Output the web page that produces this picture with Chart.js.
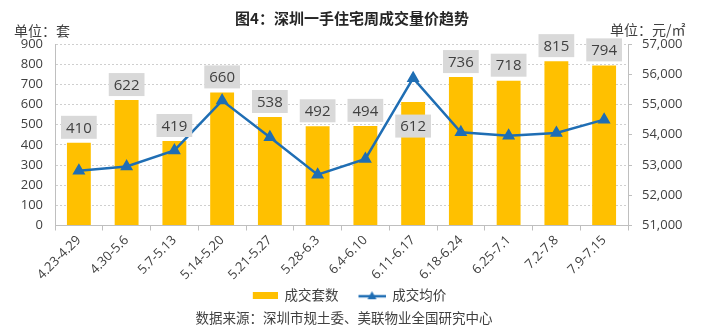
<!DOCTYPE html>
<html>
<head>
<meta charset="utf-8" />
<title>深圳一手住宅周成交量价趋势</title>
<script src="https://cdn.jsdelivr.net/npm/chart.js@4/dist/chart.umd.min.js"></script>
<style>
  html, body { margin: 0; padding: 0; background: #fff; }
  #wrap { width: 707px; height: 335px; }
</style>
</head>
<body>
<div id="wrap"><canvas id="trendChart"></canvas></div>
<script>
const weeks = ['4.23-4.29', '4.30-5.6', '5.7-5.13', '5.14-5.20', '5.21-5.27', '5.28-6.3',
               '6.4-6.10', '6.11-6.17', '6.18-6.24', '6.25-7.1', '7.2-7.8', '7.9-7.15'];
const units = [410, 622, 419, 660, 538, 492, 494, 612, 736, 718, 815, 794];
const avgPrice = [52810, 52950, 53480, 55130, 53920, 52680, 53200, 55870, 54080, 53970, 54060, 54500];

const latin = "'Open Sans', 'Noto Sans CJK SC', sans-serif";
const cjk = "'Noto Sans CJK SC', sans-serif";
const textGrey = '#404040';
const barYellow = '#FFC000';
const lineBlue = '#1F6EB4';
const symbolWidth = 41;

// legend symbols, drawn flush right so the empty left part spaces the items apart
function barSymbol() {
  const c = document.createElement('canvas');
  c.width = symbolWidth; c.height = 7;
  const g = c.getContext('2d');
  g.fillStyle = barYellow;
  g.fillRect(symbolWidth - 25, 0, 25, 7);
  return c;
}
function lineSymbol() {
  const c = document.createElement('canvas');
  c.width = symbolWidth; c.height = 10;
  const g = c.getContext('2d');
  const x0 = symbolWidth - 27;
  g.strokeStyle = lineBlue;
  g.lineWidth = 2.5;
  g.beginPath(); g.moveTo(x0, 6); g.lineTo(symbolWidth, 6); g.stroke();
  g.fillStyle = lineBlue;
  g.beginPath(); g.moveTo(x0 + 13.5, 1); g.lineTo(x0 + 18, 9); g.lineTo(x0 + 9, 9); g.closePath(); g.fill();
  return c;
}

// grey value boxes above the bars, title, unit captions and source line
const annotations = {
  id: 'annotations',
  afterDatasetsDraw(chart) {
    const ctx = chart.ctx;
    const meta = chart.getDatasetMeta(0);
    ctx.save();
    ctx.font = '15px ' + latin;
    ctx.textAlign = 'center';
    ctx.textBaseline = 'middle';
    meta.data.forEach((bar, i) => {
      const txt = String(units[i]);
      const w = ctx.measureText(txt).width + 10;
      const h = 23;
      // the 6.11-6.17 box sits inside its bar, clear of the price line
      const cy = i === 7 ? bar.y + 24 : bar.y - 4 - h / 2;
      ctx.fillStyle = '#d9d9d9';
      ctx.fillRect(bar.x - w / 2, cy - h / 2, w, h);
      ctx.fillStyle = textGrey;
      ctx.fillText(txt, bar.x, cy + 1);
    });
    ctx.restore();
  },
  afterDraw(chart) {
    const ctx = chart.ctx;
    ctx.save();
    ctx.textBaseline = 'middle';
    ctx.fillStyle = '#262626';
    ctx.font = 'bold 15px ' + cjk;
    ctx.textAlign = 'center';
    ctx.fillText('图4：深圳一手住宅周成交量价趋势', 352, 18);
    ctx.fillStyle = textGrey;
    ctx.font = '14px ' + cjk;
    ctx.textAlign = 'left';
    ctx.fillText('单位：套', 14, 31);
    ctx.fillText('单位：元/㎡', 610, 30);
    ctx.font = '13.5px ' + cjk;
    ctx.textAlign = 'center';
    ctx.fillText('数据来源：深圳市规土委、美联物业全国研究中心', 344, 318);
    ctx.restore();
  }
};

new Chart(document.getElementById('trendChart'), {
  type: 'bar',
  data: {
    labels: weeks,
    datasets: [{
      type: 'bar',
      label: '成交套数',
      data: units,
      backgroundColor: barYellow,
      yAxisID: 'y',
      order: 1,
      barPercentage: 0.5,
      categoryPercentage: 1.0
    }, {
      type: 'line',
      label: '成交均价',
      data: avgPrice,
      borderColor: lineBlue,
      backgroundColor: lineBlue,
      borderWidth: 2.5,
      pointStyle: 'triangle',
      pointRadius: 5,
      pointBackgroundColor: lineBlue,
      pointBorderColor: lineBlue,
      tension: 0,
      yAxisID: 'y2',
      order: 0
    }]
  },
  options: {
    responsive: true,
    maintainAspectRatio: false,
    animation: false,
    layout: { padding: { top: 44, left: 0, right: 0, bottom: 23 } },
    plugins: {
      title: { display: false },
      tooltip: { enabled: false },
      legend: {
        position: 'bottom',
        fullSize: false,
        labels: {
          usePointStyle: true,
          pointStyleWidth: symbolWidth,
          padding: 6,
          color: textGrey,
          font: { family: cjk, size: 13.5 },
          sort: (a, b) => a.datasetIndex - b.datasetIndex,
          generateLabels(chart) {
            const items = Chart.defaults.plugins.legend.labels.generateLabels(chart);
            items.forEach(it => {
              it.pointStyle = it.datasetIndex === 0 ? barSymbol() : lineSymbol();
            });
            return items;
          }
        }
      }
    },
    scales: {
      x: {
        offset: true,
        afterFit(scale) { scale.height = 57; },
        grid: { offset: true, drawOnChartArea: false, drawTicks: true, tickLength: 5, color: '#bfbfbf' },
        border: { color: '#bfbfbf' },
        ticks: {
          color: textGrey,
          font: { family: latin, size: 13 },
          minRotation: 45,
          maxRotation: 45,
          padding: 2
        }
      },
      y: {
        position: 'left',
        min: 0,
        max: 900,
        afterFit(scale) { scale.width = 55; },
        grid: { color: '#cfcfcf', drawTicks: false },
        border: { color: '#bfbfbf', dash: [2, 2] },
        ticks: {
          stepSize: 100,
          color: textGrey,
          font: { family: latin, size: 13 },
          padding: 12
        }
      },
      y2: {
        position: 'right',
        min: 51000,
        max: 57000,
        afterFit(scale) { scale.width = 79; },
        grid: { drawOnChartArea: false, drawTicks: true, tickLength: 4, color: '#bfbfbf' },
        border: { color: '#bfbfbf' },
        ticks: {
          stepSize: 1000,
          color: textGrey,
          font: { family: latin, size: 13 },
          padding: 10,
          callback: v => v.toLocaleString('en-US')
        }
      }
    }
  },
  plugins: [annotations]
});
</script>
</body>
</html>
